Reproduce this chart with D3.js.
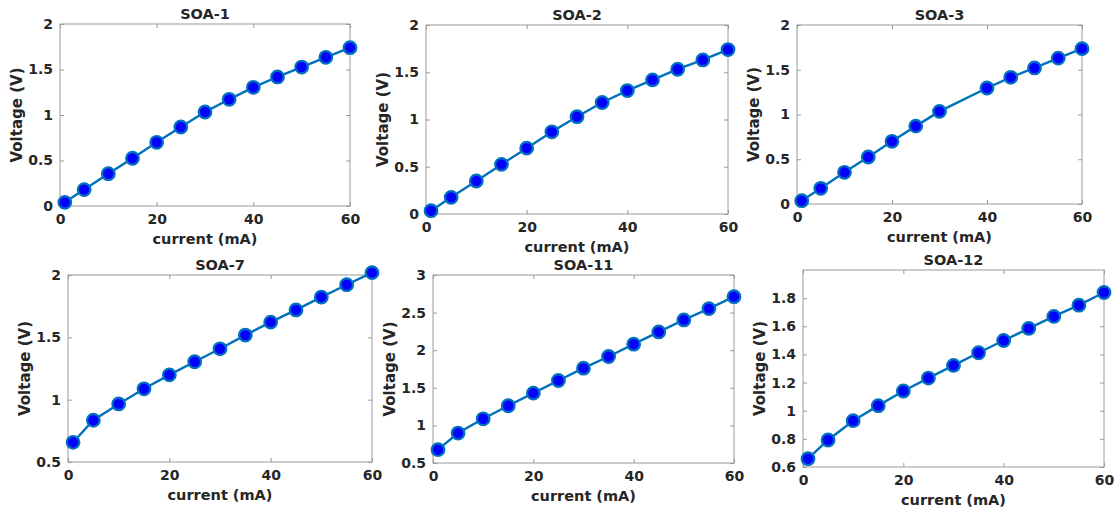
<!DOCTYPE html>
<html>
<head>
<meta charset="utf-8">
<script src="https://cdn.jsdelivr.net/npm/d3@7"></script>
<style>
  body { margin: 0; background: #fff; }
  svg { display: block; }
  text { font-family: "DejaVu Sans", sans-serif; font-weight: bold; fill: #262626; }
</style>
</head>
<body>
<script>
'use strict';

// currents (mA) where voltage was measured
const currents = [1, 5, 10, 15, 20, 25, 30, 35, 40, 45, 50, 55, 60];
const currents3 = [1, 5, 10, 15, 20, 25, 30, 40, 45, 50, 55, 60]; // SOA-3 has no 35 mA point

// voltages (V)
const soa1 = [0.04, 0.18, 0.355, 0.525, 0.70, 0.868, 1.033, 1.172, 1.304, 1.418, 1.527, 1.634, 1.74];
const soa2 = [0.035, 0.176, 0.349, 0.525, 0.697, 0.87, 1.03, 1.18, 1.306, 1.419, 1.532, 1.63, 1.74];
const soa3 = [0.037, 0.175, 0.354, 0.525, 0.70, 0.87, 1.035, 1.296, 1.415, 1.52, 1.63, 1.736];
const soa7 = [0.658, 0.835, 0.966, 1.087, 1.199, 1.304, 1.408, 1.518, 1.622, 1.72, 1.823, 1.922, 2.019];
const soa11 = [0.677, 0.898, 1.088, 1.261, 1.429, 1.597, 1.761, 1.916, 2.08, 2.243, 2.403, 2.553, 2.712];
const soa12 = [0.659, 0.792, 0.929, 1.036, 1.14, 1.232, 1.322, 1.412, 1.499, 1.585, 1.67, 1.75, 1.84];

const titles = ["SOA-1", "SOA-2", "SOA-3", "SOA-7", "SOA-11", "SOA-12"];
const xTicks = [0, 20, 40, 60];
const yTicks1 = [0, 0.5, 1, 1.5, 2];
const yTicks7 = [0.5, 1, 1.5, 2];
const yTicks11 = [0.5, 1, 1.5, 2, 2.5, 3];
const yTicks12 = [0.6, 0.8, 1, 1.2, 1.4, 1.6, 1.8];

const panels = [
  { title: titles[0], x: currents,  y: soa1,  yDomain: [0, 2],     yTicks: yTicks1 },
  { title: titles[1], x: currents,  y: soa2,  yDomain: [0, 2],     yTicks: yTicks1 },
  { title: titles[2], x: currents3, y: soa3,  yDomain: [0, 2],     yTicks: yTicks1 },
  { title: titles[3], x: currents,  y: soa7,  yDomain: [0.5, 2],   yTicks: yTicks7 },
  { title: titles[4], x: currents,  y: soa11, yDomain: [0.5, 3],   yTicks: yTicks11 },
  { title: titles[5], x: currents,  y: soa12, yDomain: [0.6, 2.0], yTicks: yTicks12 }
];

// plot boxes in page pixels (left, right, top, bottom)
const boxes = [
  [60, 350, 24, 206],
  [426, 728, 25, 214],
  [797, 1082, 25, 204],
  [68, 372, 275, 462],
  [433, 734, 275, 463],
  [803, 1104, 270, 467]
];

const lineColor = "#0072BD";
const markerColor = "#0000FF";
const boxColor = "#9a9a9a";
const fmt = d3.format("~g");

const svg = d3.select("body").append("svg")
  .attr("width", 1117)
  .attr("height", 510);

panels.forEach((p, i) => drawPanel(p, boxes[i]));

function styleAxis(a) {
  a.select(".domain").remove();
  a.selectAll("line").attr("stroke", boxColor);
  a.selectAll("text").attr("font-size", 14).attr("fill", "#262626")
    .attr("font-family", "DejaVu Sans").attr("font-weight", "bold");
}

function drawPanel(p, b) {
  const [left, right, top, bottom] = b;
  const xScale = d3.scaleLinear().domain([0, 60]).range([left, right]);
  const yScale = d3.scaleLinear().domain(p.yDomain).range([bottom, top]);
  const g = svg.append("g");

  // box
  g.append("rect")
    .attr("x", left).attr("y", top)
    .attr("width", right - left).attr("height", bottom - top)
    .attr("fill", "none").attr("stroke", boxColor).attr("stroke-width", 1);

  // axes with inward ticks, mirrored on the opposite sides
  g.append("g").attr("transform", `translate(0,${bottom})`)
    .call(d3.axisBottom(xScale).tickValues(xTicks).tickSize(-4).tickPadding(8).tickFormat(fmt))
    .call(styleAxis);
  g.append("g").attr("transform", `translate(0,${top})`)
    .call(d3.axisTop(xScale).tickValues(xTicks).tickSize(-4).tickFormat(""))
    .call(styleAxis);
  g.append("g").attr("transform", `translate(${left},0)`)
    .call(d3.axisLeft(yScale).tickValues(p.yTicks).tickSize(-4).tickPadding(7).tickFormat(fmt))
    .call(styleAxis);
  g.append("g").attr("transform", `translate(${right},0)`)
    .call(d3.axisRight(yScale).tickValues(p.yTicks).tickSize(-4).tickFormat(""))
    .call(styleAxis);

  // title and labels
  g.append("text")
    .attr("x", (left + right) / 2).attr("y", top - 5)
    .attr("text-anchor", "middle").style("font-size", "14.5px")
    .text(p.title);

  g.append("text")
    .attr("x", (left + right) / 2).attr("y", bottom + 38)
    .attr("text-anchor", "middle").style("font-size", "14.5px")
    .text("current (mA)");

  g.append("text")
    .attr("transform", `translate(${left - 38},${(top + bottom) / 2})rotate(-90)`)
    .attr("text-anchor", "middle").style("font-size", "15px")
    .text("Voltage (V)");

  // series
  const pts = p.x.map((c, k) => [c, p.y[k]]);
  const line = d3.line().x(d => xScale(d[0])).y(d => yScale(d[1]));

  g.append("path")
    .datum(pts)
    .attr("d", line)
    .attr("fill", "none")
    .attr("stroke", lineColor)
    .attr("stroke-width", 2.4);

  g.selectAll(".dot")
    .data(pts)
    .enter()
    .append("circle")
      .attr("cx", d => xScale(d[0]))
      .attr("cy", d => yScale(d[1]))
      .attr("r", 6.3)
      .attr("fill", markerColor)
      .attr("stroke", lineColor)
      .attr("stroke-width", 2.2);
}
</script>
</body>
</html>
